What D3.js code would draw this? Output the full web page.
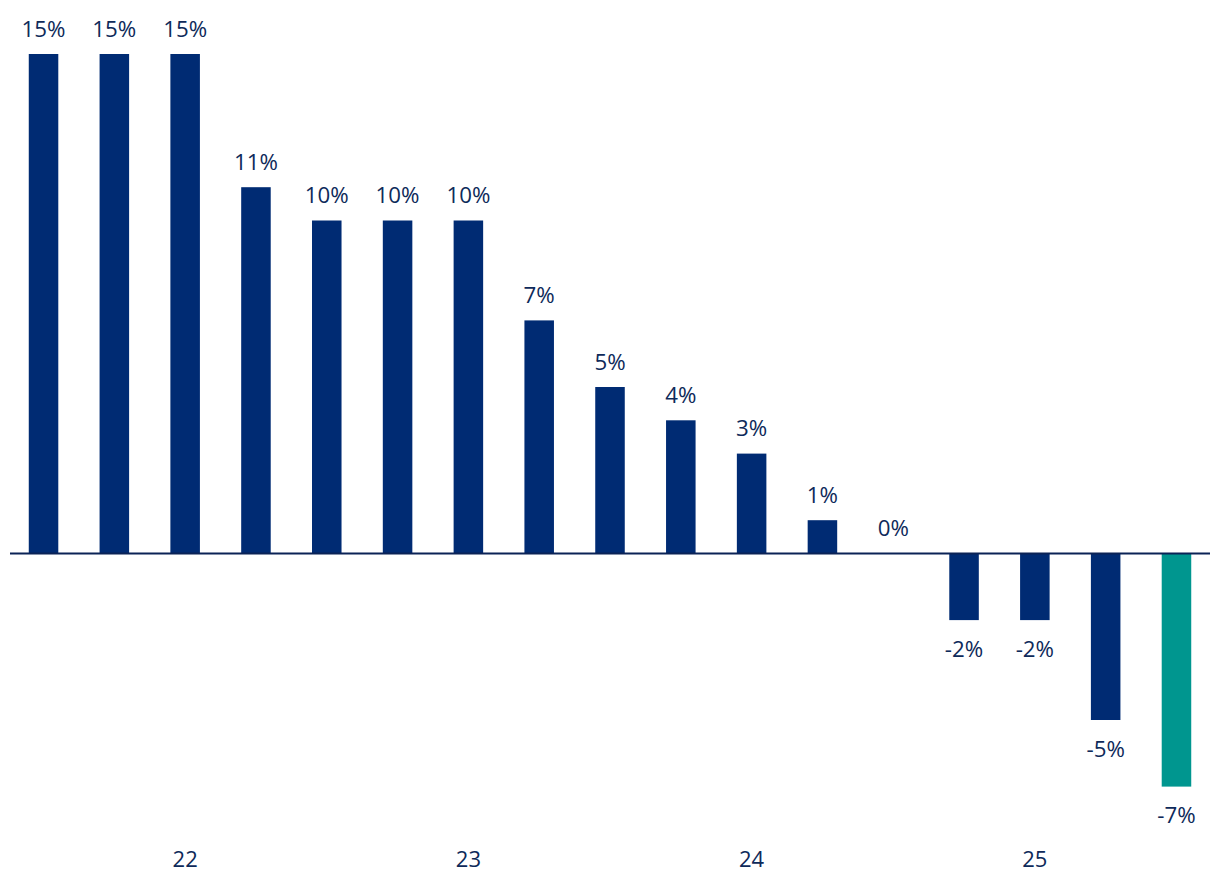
<!DOCTYPE html>
<html>
<head>
<meta charset="utf-8">
<script src="https://cdn.jsdelivr.net/npm/d3@7"></script>
<style>
  html, body { margin: 0; padding: 0; background: #ffffff; }
  svg { display: block; }
  text { font-family: "Open Sans", "Noto Sans", sans-serif; }
</style>
</head>
<body>
<svg id="chart" width="1220" height="896"></svg>
<script>
const categories = ["21Q3","21Q4","22Q1","22Q2","22Q3","22Q4","23Q1","23Q2","23Q3","23Q4","24Q1","24Q2","24Q3","24Q4","25Q1","25Q2","25Q3"];
const values = [15, 15, 15, 11, 10, 10, 10, 7, 5, 4, 3, 1, 0, -2, -2, -5, -7];
const highlighted = ["25Q3"];
const tickCategories = ["22Q1", "23Q1", "24Q1", "25Q1"];
const tickLabels = ["22", "23", "24", "25"];

const W = 1220, H = 896;
const svg = d3.select("#chart");

const x = d3.scaleBand()
  .domain(categories)
  .range([10, 1210])
  .paddingInner(0.583)
  .paddingOuter(0.265);

const y = d3.scaleLinear()
  .domain([0, 15])
  .range([553.5, 54]);

const navy = "#002b73";
const teal = "#00968f";
const textCol = "#0e2a5a";

// bars
svg.append("g").selectAll("rect")
  .data(categories)
  .join("rect")
  .attr("x", d => x(d))
  .attr("width", x.bandwidth())
  .attr("y", (d, i) => Math.min(y(values[i]), y(0)))
  .attr("height", (d, i) => Math.abs(y(values[i]) - y(0)))
  .attr("fill", d => highlighted.includes(d) ? teal : navy);

// zero line
svg.append("line")
  .attr("x1", 10).attr("x2", 1210)
  .attr("y1", y(0)).attr("y2", y(0))
  .attr("stroke", "#0b2356")
  .attr("stroke-width", 2);

// value labels
svg.append("g").selectAll("text")
  .data(categories)
  .join("text")
  .attr("x", d => x(d) + x.bandwidth() / 2)
  .attr("y", (d, i) => values[i] >= 0 ? y(values[i]) - 17.5 : y(values[i]) + 36.5)
  .attr("text-anchor", "middle")
  .attr("font-size", 22.3)
  .attr("fill", textCol)
  .text((d, i) => values[i] + "%");

// x axis (year labels)
const axis = d3.axisBottom(x)
  .tickValues(tickCategories)
  .tickFormat(d => tickLabels[tickCategories.indexOf(d)])
  .tickSize(0)
  .tickPadding(0);

const gAxis = svg.append("g")
  .attr("transform", `translate(0, 866.5)`)
  .call(axis);
gAxis.select(".domain").remove();
gAxis.selectAll("text")
  .attr("font-size", 22)
  .attr("fill", textCol)
  .attr("font-family", "'Open Sans', 'Noto Sans', sans-serif")
  .attr("dy", "0");
</script>
</body>
</html>
